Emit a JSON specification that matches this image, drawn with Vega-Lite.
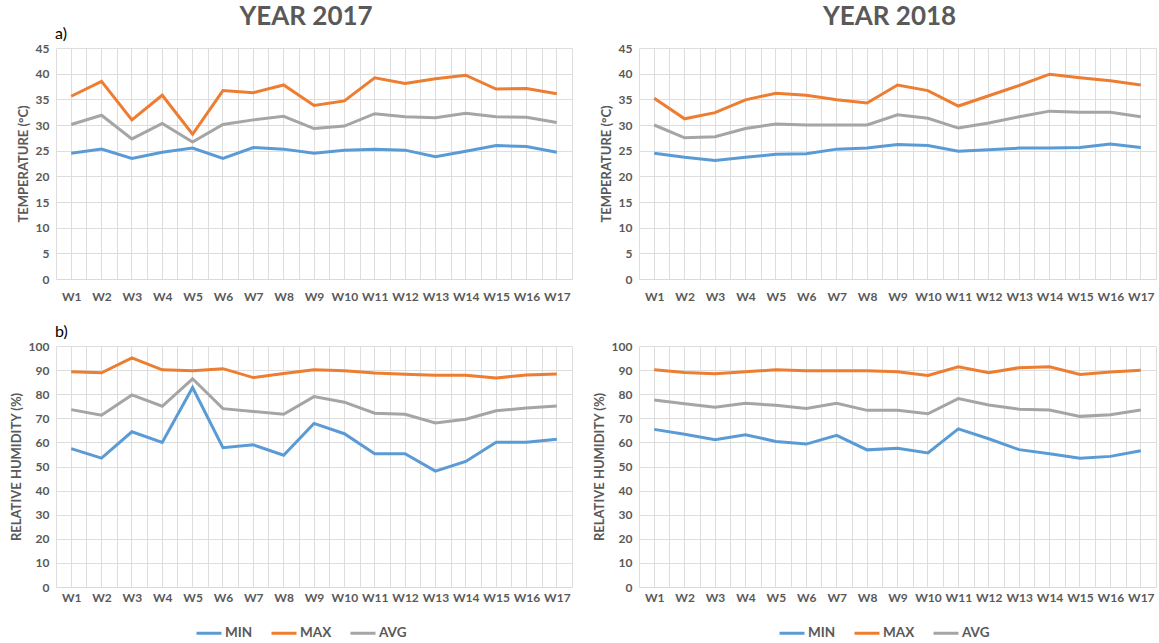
{
  "$schema": "https://vega.github.io/schema/vega-lite/v6.json",
  "padding": {"left": 10, "top": 4, "right": 2, "bottom": 0},
  "config": {
    "font": "Lato",
    "view": {"stroke": null},
    "axis": {
      "labelFont": "Lato", "labelFontWeight": "bold", "labelFontSize": 12, "labelColor": "#595959",
      "titleFont": "Lato", "titleFontWeight": "bold", "titleFontSize": 13, "titleColor": "#595959",
      "gridColor": "#dedede", "gridWidth": 1, "domain": false, "ticks": false
    },
    "axisX": {"labelFontSize": 12},
    "legend": {
      "labelFont": "Lato", "labelFontWeight": "bold", "labelFontSize": 13.5, "labelColor": "#595959",
      "symbolType": "stroke", "symbolStrokeWidth": 3, "symbolSize": 625, "labelOffset": 2, "columnPadding": 12
    }
  },
  "datasets": {
    "y2017": [
      {"week": "W1", "series": "MIN", "temp": 24.5, "hum": 57.4},
      {"week": "W2", "series": "MIN", "temp": 25.3, "hum": 53.5},
      {"week": "W3", "series": "MIN", "temp": 23.5, "hum": 64.4},
      {"week": "W4", "series": "MIN", "temp": 24.7, "hum": 60.0},
      {"week": "W5", "series": "MIN", "temp": 25.5, "hum": 82.8},
      {"week": "W6", "series": "MIN", "temp": 23.5, "hum": 57.8},
      {"week": "W7", "series": "MIN", "temp": 25.6, "hum": 59.0},
      {"week": "W8", "series": "MIN", "temp": 25.3, "hum": 54.7},
      {"week": "W9", "series": "MIN", "temp": 24.5, "hum": 67.9},
      {"week": "W10", "series": "MIN", "temp": 25.1, "hum": 63.6},
      {"week": "W11", "series": "MIN", "temp": 25.3, "hum": 55.3},
      {"week": "W12", "series": "MIN", "temp": 25.1, "hum": 55.3},
      {"week": "W13", "series": "MIN", "temp": 23.8, "hum": 48.1},
      {"week": "W14", "series": "MIN", "temp": 24.9, "hum": 52.1},
      {"week": "W15", "series": "MIN", "temp": 26.0, "hum": 60.1},
      {"week": "W16", "series": "MIN", "temp": 25.8, "hum": 60.1},
      {"week": "W17", "series": "MIN", "temp": 24.7, "hum": 61.3},
      {"week": "W1", "series": "MAX", "temp": 35.6, "hum": 89.3},
      {"week": "W2", "series": "MAX", "temp": 38.5, "hum": 88.9},
      {"week": "W3", "series": "MAX", "temp": 31.0, "hum": 95.1},
      {"week": "W4", "series": "MAX", "temp": 35.8, "hum": 90.1},
      {"week": "W5", "series": "MAX", "temp": 28.2, "hum": 89.7},
      {"week": "W6", "series": "MAX", "temp": 36.7, "hum": 90.6},
      {"week": "W7", "series": "MAX", "temp": 36.3, "hum": 86.9},
      {"week": "W8", "series": "MAX", "temp": 37.8, "hum": 88.6},
      {"week": "W9", "series": "MAX", "temp": 33.8, "hum": 90.1},
      {"week": "W10", "series": "MAX", "temp": 34.7, "hum": 89.7},
      {"week": "W11", "series": "MAX", "temp": 39.2, "hum": 88.8},
      {"week": "W12", "series": "MAX", "temp": 38.1, "hum": 88.3},
      {"week": "W13", "series": "MAX", "temp": 39.0, "hum": 87.9},
      {"week": "W14", "series": "MAX", "temp": 39.7, "hum": 87.9},
      {"week": "W15", "series": "MAX", "temp": 37.0, "hum": 86.7},
      {"week": "W16", "series": "MAX", "temp": 37.1, "hum": 88.0},
      {"week": "W17", "series": "MAX", "temp": 36.1, "hum": 88.4},
      {"week": "W1", "series": "AVG", "temp": 30.1, "hum": 73.6},
      {"week": "W2", "series": "AVG", "temp": 31.9, "hum": 71.3},
      {"week": "W3", "series": "AVG", "temp": 27.3, "hum": 79.7},
      {"week": "W4", "series": "AVG", "temp": 30.3, "hum": 75.0},
      {"week": "W5", "series": "AVG", "temp": 26.7, "hum": 86.4},
      {"week": "W6", "series": "AVG", "temp": 30.1, "hum": 74.0},
      {"week": "W7", "series": "AVG", "temp": 31.0, "hum": 72.8},
      {"week": "W8", "series": "AVG", "temp": 31.7, "hum": 71.7},
      {"week": "W9", "series": "AVG", "temp": 29.3, "hum": 79.0},
      {"week": "W10", "series": "AVG", "temp": 29.8, "hum": 76.7},
      {"week": "W11", "series": "AVG", "temp": 32.2, "hum": 72.1},
      {"week": "W12", "series": "AVG", "temp": 31.6, "hum": 71.7},
      {"week": "W13", "series": "AVG", "temp": 31.4, "hum": 68.1},
      {"week": "W14", "series": "AVG", "temp": 32.3, "hum": 69.6},
      {"week": "W15", "series": "AVG", "temp": 31.6, "hum": 73.1},
      {"week": "W16", "series": "AVG", "temp": 31.5, "hum": 74.3},
      {"week": "W17", "series": "AVG", "temp": 30.5, "hum": 75.1}
    ],
    "y2018": [
      {"week": "W1", "series": "MIN", "temp": 24.5, "hum": 65.4},
      {"week": "W2", "series": "MIN", "temp": 23.7, "hum": 63.4},
      {"week": "W3", "series": "MIN", "temp": 23.1, "hum": 61.1},
      {"week": "W4", "series": "MIN", "temp": 23.7, "hum": 63.2},
      {"week": "W5", "series": "MIN", "temp": 24.3, "hum": 60.4},
      {"week": "W6", "series": "MIN", "temp": 24.4, "hum": 59.3},
      {"week": "W7", "series": "MIN", "temp": 25.3, "hum": 62.9},
      {"week": "W8", "series": "MIN", "temp": 25.5, "hum": 56.9},
      {"week": "W9", "series": "MIN", "temp": 26.2, "hum": 57.6},
      {"week": "W10", "series": "MIN", "temp": 26.0, "hum": 55.6},
      {"week": "W11", "series": "MIN", "temp": 24.9, "hum": 65.6},
      {"week": "W12", "series": "MIN", "temp": 25.2, "hum": 61.5},
      {"week": "W13", "series": "MIN", "temp": 25.5, "hum": 57.0},
      {"week": "W14", "series": "MIN", "temp": 25.5, "hum": 55.3},
      {"week": "W15", "series": "MIN", "temp": 25.6, "hum": 53.4},
      {"week": "W16", "series": "MIN", "temp": 26.3, "hum": 54.2},
      {"week": "W17", "series": "MIN", "temp": 25.6, "hum": 56.5},
      {"week": "W1", "series": "MAX", "temp": 35.2, "hum": 90.1},
      {"week": "W2", "series": "MAX", "temp": 31.2, "hum": 89.0},
      {"week": "W3", "series": "MAX", "temp": 32.4, "hum": 88.5},
      {"week": "W4", "series": "MAX", "temp": 34.9, "hum": 89.3},
      {"week": "W5", "series": "MAX", "temp": 36.2, "hum": 90.1},
      {"week": "W6", "series": "MAX", "temp": 35.8, "hum": 89.7},
      {"week": "W7", "series": "MAX", "temp": 34.9, "hum": 89.7},
      {"week": "W8", "series": "MAX", "temp": 34.3, "hum": 89.7},
      {"week": "W9", "series": "MAX", "temp": 37.8, "hum": 89.3},
      {"week": "W10", "series": "MAX", "temp": 36.7, "hum": 87.8},
      {"week": "W11", "series": "MAX", "temp": 33.7, "hum": 91.4},
      {"week": "W12", "series": "MAX", "temp": 35.7, "hum": 88.9},
      {"week": "W13", "series": "MAX", "temp": 37.7, "hum": 91.0},
      {"week": "W14", "series": "MAX", "temp": 39.9, "hum": 91.4},
      {"week": "W15", "series": "MAX", "temp": 39.2, "hum": 88.2},
      {"week": "W16", "series": "MAX", "temp": 38.6, "hum": 89.2},
      {"week": "W17", "series": "MAX", "temp": 37.8, "hum": 89.9},
      {"week": "W1", "series": "AVG", "temp": 30.0, "hum": 77.6},
      {"week": "W2", "series": "AVG", "temp": 27.5, "hum": 76.0},
      {"week": "W3", "series": "AVG", "temp": 27.7, "hum": 74.6},
      {"week": "W4", "series": "AVG", "temp": 29.3, "hum": 76.2},
      {"week": "W5", "series": "AVG", "temp": 30.2, "hum": 75.4},
      {"week": "W6", "series": "AVG", "temp": 30.0, "hum": 74.1},
      {"week": "W7", "series": "AVG", "temp": 30.0, "hum": 76.2},
      {"week": "W8", "series": "AVG", "temp": 30.0, "hum": 73.3},
      {"week": "W9", "series": "AVG", "temp": 32.0, "hum": 73.3},
      {"week": "W10", "series": "AVG", "temp": 31.3, "hum": 71.9},
      {"week": "W11", "series": "AVG", "temp": 29.4, "hum": 78.2},
      {"week": "W12", "series": "AVG", "temp": 30.4, "hum": 75.5},
      {"week": "W13", "series": "AVG", "temp": 31.6, "hum": 73.8},
      {"week": "W14", "series": "AVG", "temp": 32.7, "hum": 73.4},
      {"week": "W15", "series": "AVG", "temp": 32.5, "hum": 70.8},
      {"week": "W16", "series": "AVG", "temp": 32.5, "hum": 71.5},
      {"week": "W17", "series": "AVG", "temp": 31.6, "hum": 73.4}
    ]
  },
  "hconcat": [
    {
      "title": {"text": "YEAR 2017", "fontSize": 26, "fontWeight": "bold", "color": "#595959", "anchor": "middle", "dx": 15, "offset": -4},
      "spacing": 22,
      "vconcat": [
        {
          "data": {"name": "y2017"},
          "width": 516, "height": 231,
          "title": {"text": "a)", "anchor": "start", "frame": "group", "fontSize": 16, "fontWeight": "normal", "color": "#000000", "offset": 0, "dx": -1},
          "encoding": {"y": {"field": "temp", "type": "quantitative", "scale": {"domain": [0, 45]}, "axis": {"title": "TEMPERATURE (°C)", "values": [0, 5, 10, 15, 20, 25, 30, 35, 40, 45], "labelPadding": 7, "titlePadding": 5}}},
          "layer": [
            {"mark": {"type": "line", "strokeWidth": 3}, "encoding": {
              "x": {"field": "week", "type": "nominal", "sort": null, "bandPosition": 0.5, "scale": {"type": "band", "paddingInner": 0, "paddingOuter": 0}, "axis": {"title": null, "labelAngle": 0, "labelPadding": 12, "tickBand": "extent", "grid": true, "domain": true, "domainColor": "#d9d9d9"}},
              "color": {"field": "series", "type": "nominal", "scale": {"domain": ["MIN", "MAX", "AVG"], "range": ["#5B9BD5", "#ED7D31", "#A5A5A5"]}, "legend": null}}},
            {"mark": {"type": "line", "opacity": 0}, "encoding": {
              "x": {"field": "week", "type": "nominal", "sort": null, "bandPosition": 0.5, "scale": {"type": "band", "paddingInner": 0, "paddingOuter": 0}, "axis": {"title": null, "labels": false, "domain": false, "ticks": false, "grid": true, "orient": "bottom"}},
              "detail": {"field": "series"}}}
          ],
          "resolve": {"axis": {"x": "independent"}}
        },
        {
          "data": {"name": "y2017"},
          "width": 516, "height": 241,
          "title": {"text": "b)", "anchor": "start", "frame": "group", "fontSize": 16, "fontWeight": "normal", "color": "#000000", "offset": 0, "dx": -1},
          "encoding": {"y": {"field": "hum", "type": "quantitative", "scale": {"domain": [0, 100]}, "axis": {"title": "RELATIVE HUMIDITY (%)", "values": [0, 10, 20, 30, 40, 50, 60, 70, 80, 90, 100], "labelPadding": 7, "titlePadding": 5}}},
          "layer": [
            {"mark": {"type": "line", "strokeWidth": 3}, "encoding": {
              "x": {"field": "week", "type": "nominal", "sort": null, "bandPosition": 0.5, "scale": {"type": "band", "paddingInner": 0, "paddingOuter": 0}, "axis": {"title": null, "labelAngle": 0, "labelPadding": 5, "tickBand": "extent", "grid": true, "domain": true, "domainColor": "#d9d9d9"}},
              "color": {"field": "series", "type": "nominal", "scale": {"domain": ["MIN", "MAX", "AVG"], "range": ["#5B9BD5", "#ED7D31", "#A5A5A5"]}, "legend": {"title": null, "orient": "none", "direction": "horizontal", "legendX": 139, "legendY": 273}}}},
            {"mark": {"type": "line", "opacity": 0}, "encoding": {
              "x": {"field": "week", "type": "nominal", "sort": null, "bandPosition": 0.5, "scale": {"type": "band", "paddingInner": 0, "paddingOuter": 0}, "axis": {"title": null, "labels": false, "domain": false, "ticks": false, "grid": true, "orient": "bottom"}},
              "detail": {"field": "series"}}}
          ],
          "resolve": {"axis": {"x": "independent"}}
        }
      ],
      "resolve": {"scale": {"color": "independent"}, "legend": {"color": "independent"}}
    },
    {
      "title": {"text": "YEAR 2018", "fontSize": 26, "fontWeight": "bold", "color": "#595959", "anchor": "middle", "dx": 15, "offset": -4},
      "spacing": 22,
      "vconcat": [
        {
          "data": {"name": "y2018"},
          "width": 517, "height": 231,
          "title": {"text": " ", "anchor": "start", "frame": "group", "fontSize": 16, "fontWeight": "normal", "color": "#000000", "offset": 0, "dx": 0},
          "encoding": {"y": {"field": "temp", "type": "quantitative", "scale": {"domain": [0, 45]}, "axis": {"title": "TEMPERATURE (°C)", "values": [0, 5, 10, 15, 20, 25, 30, 35, 40, 45], "labelPadding": 7, "titlePadding": 5}}},
          "layer": [
            {"mark": {"type": "line", "strokeWidth": 3}, "encoding": {
              "x": {"field": "week", "type": "nominal", "sort": null, "bandPosition": 0.5, "scale": {"type": "band", "paddingInner": 0, "paddingOuter": 0}, "axis": {"title": null, "labelAngle": 0, "labelPadding": 12, "tickBand": "extent", "grid": true, "domain": true, "domainColor": "#d9d9d9"}},
              "color": {"field": "series", "type": "nominal", "scale": {"domain": ["MIN", "MAX", "AVG"], "range": ["#5B9BD5", "#ED7D31", "#A5A5A5"]}, "legend": null}}},
            {"mark": {"type": "line", "opacity": 0}, "encoding": {
              "x": {"field": "week", "type": "nominal", "sort": null, "bandPosition": 0.5, "scale": {"type": "band", "paddingInner": 0, "paddingOuter": 0}, "axis": {"title": null, "labels": false, "domain": false, "ticks": false, "grid": true, "orient": "bottom"}},
              "detail": {"field": "series"}}}
          ],
          "resolve": {"axis": {"x": "independent"}}
        },
        {
          "data": {"name": "y2018"},
          "width": 517, "height": 241,
          "title": {"text": " ", "anchor": "start", "frame": "group", "fontSize": 16, "fontWeight": "normal", "color": "#000000", "offset": 0, "dx": 0},
          "encoding": {"y": {"field": "hum", "type": "quantitative", "scale": {"domain": [0, 100]}, "axis": {"title": "RELATIVE HUMIDITY (%)", "values": [0, 10, 20, 30, 40, 50, 60, 70, 80, 90, 100], "labelPadding": 7, "titlePadding": 5}}},
          "layer": [
            {"mark": {"type": "line", "strokeWidth": 3}, "encoding": {
              "x": {"field": "week", "type": "nominal", "sort": null, "bandPosition": 0.5, "scale": {"type": "band", "paddingInner": 0, "paddingOuter": 0}, "axis": {"title": null, "labelAngle": 0, "labelPadding": 5, "tickBand": "extent", "grid": true, "domain": true, "domainColor": "#d9d9d9"}},
              "color": {"field": "series", "type": "nominal", "scale": {"domain": ["MIN", "MAX", "AVG"], "range": ["#5B9BD5", "#ED7D31", "#A5A5A5"]}, "legend": {"title": null, "orient": "none", "direction": "horizontal", "legendX": 139, "legendY": 273}}}},
            {"mark": {"type": "line", "opacity": 0}, "encoding": {
              "x": {"field": "week", "type": "nominal", "sort": null, "bandPosition": 0.5, "scale": {"type": "band", "paddingInner": 0, "paddingOuter": 0}, "axis": {"title": null, "labels": false, "domain": false, "ticks": false, "grid": true, "orient": "bottom"}},
              "detail": {"field": "series"}}}
          ],
          "resolve": {"axis": {"x": "independent"}}
        }
      ],
      "resolve": {"scale": {"color": "independent"}, "legend": {"color": "independent"}}
    }
  ],
  "spacing": 21,
  "resolve": {"scale": {"color": "independent"}, "legend": {"color": "independent"}}
}
